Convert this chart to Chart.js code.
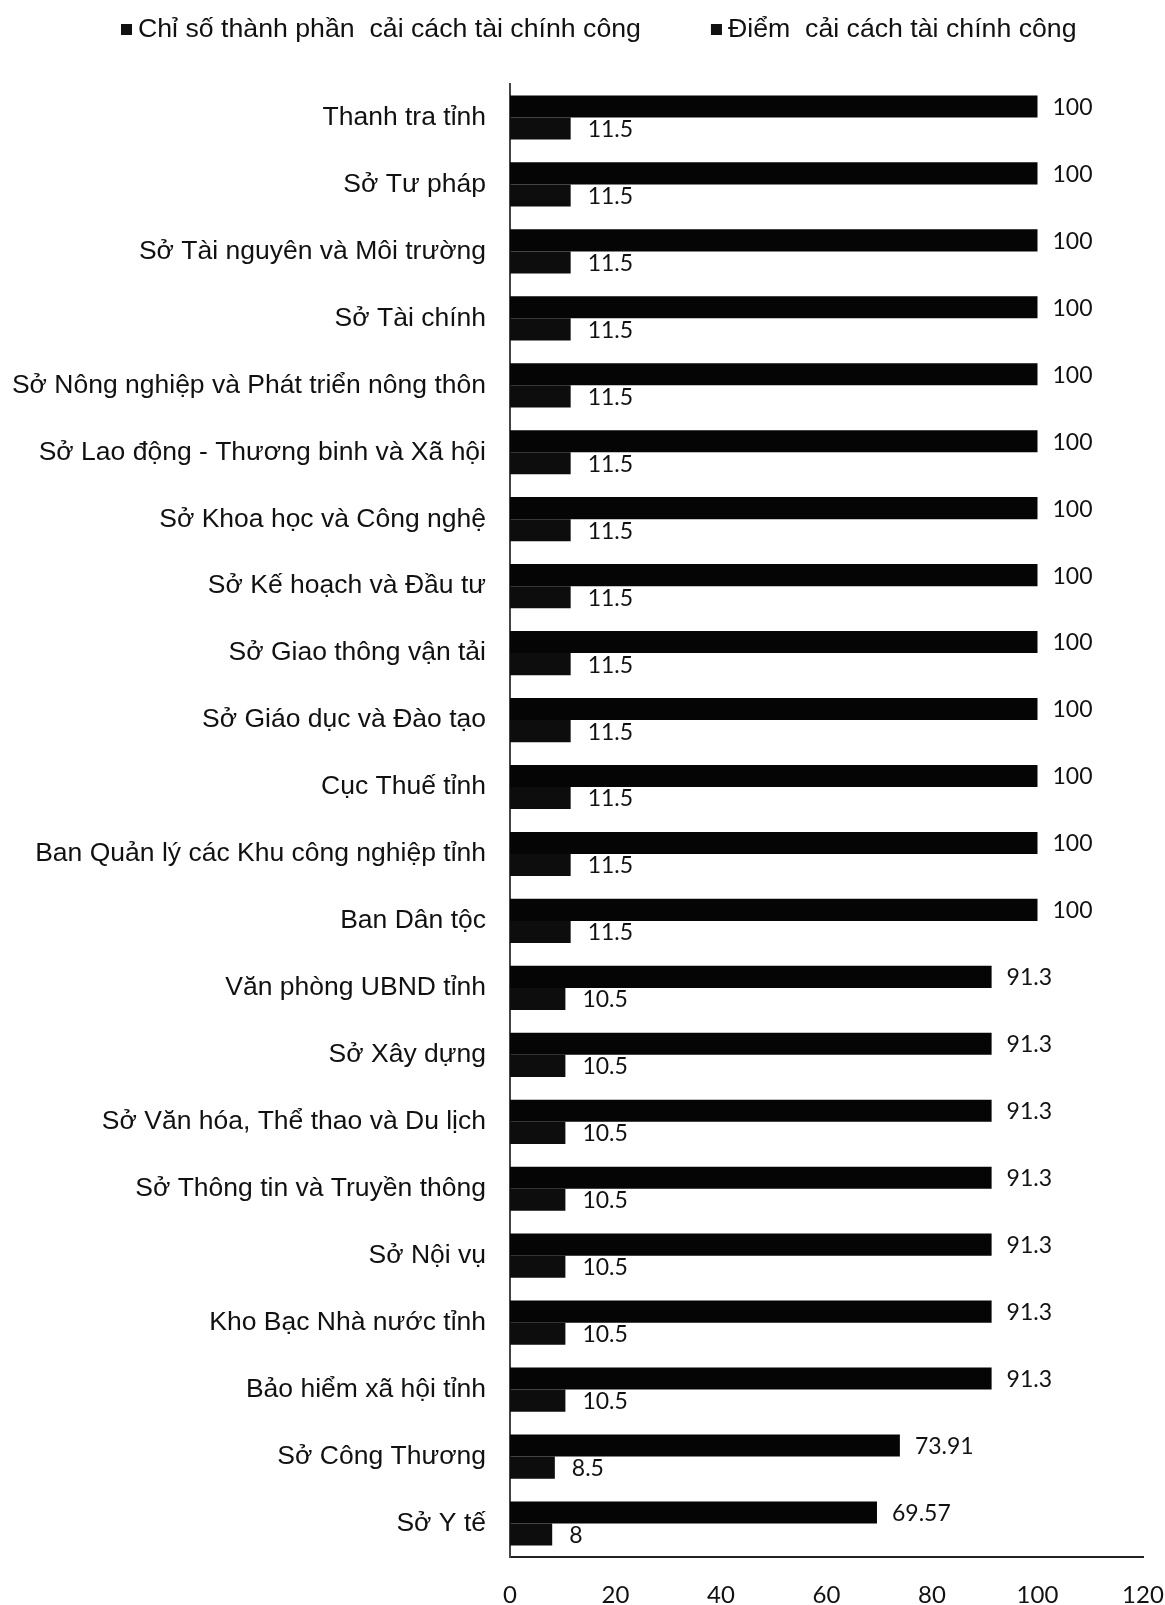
<!DOCTYPE html>
<html>
<head>
<meta charset="utf-8">
<script src="https://cdn.jsdelivr.net/npm/chart.js@4"></script>
<style>
  html, body { margin: 0; padding: 0; background: #fff; }
  #wrap { width: 1165px; height: 1605px; }
</style>
</head>
<body>
<div id="wrap"><canvas id="chart"></canvas></div>
<script>
// du lieu
const categories = [
    'Thanh tra tỉnh',
    'Sở Tư pháp',
    'Sở Tài nguyên và Môi trường',
    'Sở Tài chính',
    'Sở Nông nghiệp và Phát triển nông thôn',
    'Sở Lao động - Thương binh và Xã hội',
    'Sở Khoa học và Công nghệ',
    'Sở Kế hoạch và Đầu tư',
    'Sở Giao thông vận tải',
    'Sở Giáo dục và Đào tạo',
    'Cục Thuế tỉnh',
    'Ban Quản lý các Khu công nghiệp tỉnh',
    'Ban Dân tộc',
    'Văn phòng UBND tỉnh',
    'Sở Xây dựng',
    'Sở Văn hóa, Thể thao và Du lịch',
    'Sở Thông tin và Truyền thông',
    'Sở Nội vụ',
    'Kho Bạc Nhà nước tỉnh',
    'Bảo hiểm xã hội tỉnh',
    'Sở Công Thương',
    'Sở Y tế'
];
const chiSoValues = [100, 100, 100, 100, 100, 100, 100, 100, 100, 100, 100, 100, 100,
    91.3, 91.3, 91.3, 91.3, 91.3, 91.3, 91.3, 73.91, 69.57];
const diemValues = [11.5, 11.5, 11.5, 11.5, 11.5, 11.5, 11.5, 11.5, 11.5, 11.5, 11.5, 11.5, 11.5,
    10.5, 10.5, 10.5, 10.5, 10.5, 10.5, 10.5, 8.5, 8];
const seriesNames = ['Chỉ số thành phần  cải cách tài chính công', 'Điểm  cải cách tài chính công'];
const xTicks = [0, 20, 40, 60, 80, 100, 120];

// nhan gia tri o cuoi moi thanh
const valueLabels = {
    id: 'valueLabels',
    afterDatasetsDraw(chart) {
        const ctx = chart.ctx;
        ctx.save();
        ctx.font = '23px Lato';
        ctx.fillStyle = '#111';
        ctx.textAlign = 'left';
        ctx.textBaseline = 'middle';
        chart.data.datasets.forEach((ds, di) => {
            chart.getDatasetMeta(di).data.forEach((bar, i) => {
                ctx.fillText(String(ds.data[i]), bar.x + (di === 0 ? 15 : 17), bar.y + 1);
            });
        });
        ctx.restore();
    }
};

// chu giai ve tay o tren cung
const topLegend = {
    id: 'topLegend',
    afterDraw(chart) {
        const ctx = chart.ctx;
        ctx.save();
        ctx.font = '26.7px "Liberation Sans"';
        ctx.fillStyle = '#111';
        ctx.textBaseline = 'middle';
        let x = 121;
        seriesNames.forEach((name) => {
            ctx.fillRect(x, 24, 11, 11);
            ctx.fillText(name, x + 17, 30);
            x += 17 + ctx.measureText(name).width + 70;
        });
        ctx.restore();
    }
};

new Chart(document.getElementById('chart'), {
    type: 'bar',
    data: {
        labels: categories,
        datasets: [
            {
                label: seriesNames[0],
                data: chiSoValues,
                backgroundColor: '#050505',
                categoryPercentage: 0.66,
                barPercentage: 1.0
            },
            {
                label: seriesNames[1],
                data: diemValues,
                backgroundColor: '#0d0d0d',
                categoryPercentage: 0.66,
                barPercentage: 1.0
            }
        ]
    },
    options: {
        indexAxis: 'y',
        responsive: true,
        maintainAspectRatio: false,
        animation: false,
        layout: { padding: { top: 84, right: 0, left: 0, bottom: 0 } },
        plugins: {
            legend: { display: false },
            tooltip: { enabled: false }
        },
        scales: {
            x: {
                min: 0,
                max: 120,
                afterBuildTicks: (s) => { s.ticks = xTicks.map(v => ({ value: v })); },
                afterFit: (s) => {
                    s.height = 48;
                    // truc ngang ket thuc o khoang x = 1143
                    s.paddingRight = 22;
                    s.paddingLeft = 0;
                },
                grid: { display: false, drawTicks: false },
                border: { display: true, color: '#222', width: 2 },
                ticks: {
                    padding: 24,
                    color: '#111',
                    font: { family: 'Lato', size: 24 }
                }
            },
            y: {
                afterFit: (s) => { s.width = 510; },
                grid: { display: false, drawTicks: false },
                border: { display: true, color: '#444', width: 2 },
                ticks: {
                    padding: 24,
                    color: '#111',
                    autoSkip: false,
                    font: { family: '"Liberation Sans"', size: 26.5 }
                }
            }
        }
    },
    plugins: [valueLabels, topLegend]
});
</script>
</body>
</html>
